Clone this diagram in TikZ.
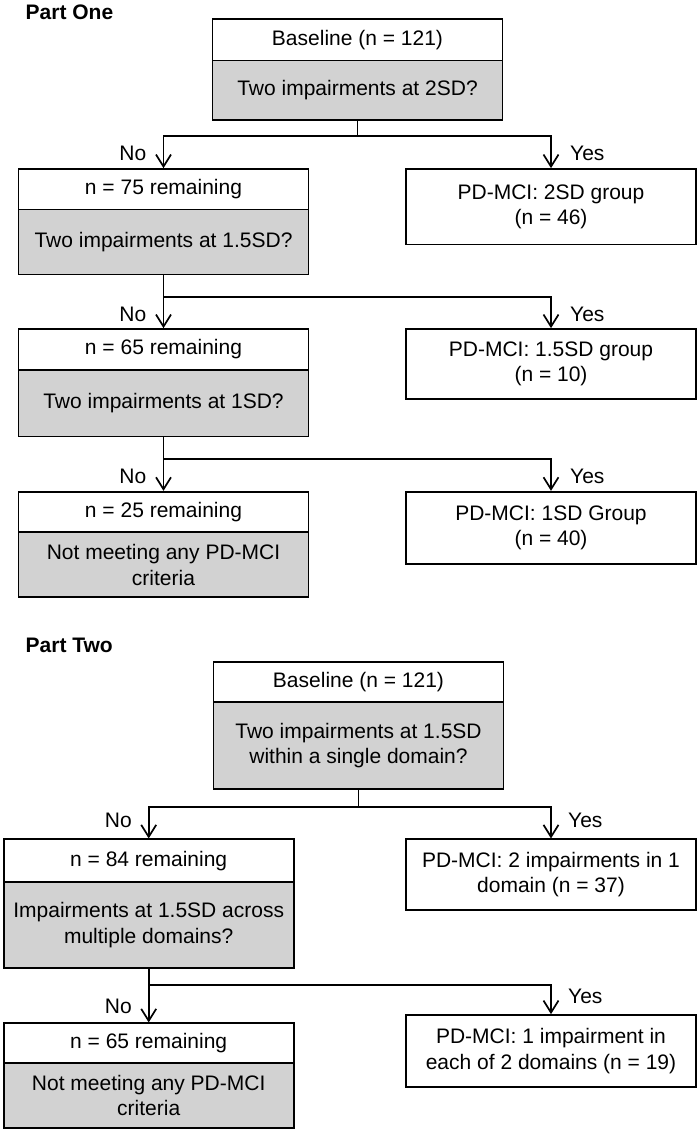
\documentclass[tikz,border=0pt]{standalone}
\usepackage{fontspec}
\setmainfont{Liberation Sans}
\usetikzlibrary{arrows.meta}
\definecolor{cellgray}{RGB}{210,210,210}
\begin{document}
\begin{tikzpicture}[x=1pt,y=-1pt,
  txt/.style={font={\fontsize{21}{25.5}\selectfont}},
  cell/.style={txt,draw,line width=1.7pt,minimum width=290pt,inner sep=0pt,align=center},
  whitecell/.style={cell,fill=white},
  graycell/.style={cell,fill=cellgray},
  conn/.style={line width=1.7pt},
  arr/.style={conn,-{Straight Barb[length=12pt,width=15pt]}},
  title/.style={font={\fontsize{21}{25.5}\selectfont\bfseries},anchor=west,inner sep=0pt},
  lab/.style={txt,inner sep=0pt}
]
\useasboundingbox (0,0) rectangle (700,1133);

% ---------- Part One ----------
\node[title] (t1) at (25.5,12) {Part One};

\node[graycell,minimum height=59.5pt] (B1b) at (357.5,90.25) {Two impairments at 2SD?};
\node[whitecell,minimum height=41.5pt] (B1t) at (357.5,39.75) {Baseline (n = 121)};

\node[graycell,minimum height=65pt] (L1b) at (163.5,242) {Two impairments at 1.5SD?};
\node[whitecell,minimum height=40.5pt] (L1t) at (163.5,189.25) {n = 75 remaining};
\node[whitecell,minimum height=75.5pt] (R1) at (551,206.75) {PD-MCI: 2SD group\\(n = 46)};

\node[graycell,minimum height=66.5pt] (L2b) at (163.5,403.25) {Two impairments at 1SD?};
\node[whitecell,minimum height=41pt] (L2t) at (163.5,349.5) {n = 65 remaining};
\node[whitecell,minimum height=70pt] (R2) at (551,364) {PD-MCI: 1.5SD group\\(n = 10)};

\node[graycell,minimum height=65pt] (L3b) at (163.5,564.8) {Not meeting any PD-MCI\\criteria};
\node[whitecell,minimum height=40.6pt] (L3t) at (163.5,512) {n = 25 remaining};
\node[whitecell,minimum height=72pt] (R3) at (551,527.7) {PD-MCI: 1SD Group\\(n = 40)};

\coordinate (j1) at (357.5,136);
\coordinate (j2) at (163.5,297);
\coordinate (j3) at (163.5,459);

\draw[conn] (B1b.south) -- (j1);
\draw[arr] (j1) -| (L1t.north);
\draw[arr] (j1) -| (R1.north);
\draw[arr] (L1b.south) -- (L2t.north);
\draw[arr] (j2) -| (R2.north);
\draw[arr] (L2b.south) -- (L3t.north);
\draw[arr] (j3) -| (R3.north);

\node[lab,anchor=east] (n1) at (146.5,153.3) {No};
\node[lab,anchor=west] (y1) at (570,153.3) {Yes};
\node[lab,anchor=east] (n2) at (146.5,314) {No};
\node[lab,anchor=west] (y2) at (570,314) {Yes};
\node[lab,anchor=east] (n3) at (146.5,476) {No};
\node[lab,anchor=west] (y3) at (570,476) {Yes};

% ---------- Part Two ----------
\node[title] (t2) at (25.5,645) {Part Two};

\node[graycell,minimum height=86.7pt] (B2b) at (358.5,745.65) {Two impairments at 1.5SD\\within a single domain?};
\node[whitecell,minimum height=40.6pt] (B2t) at (358.5,682) {Baseline (n = 121)};

\node[graycell,minimum height=86pt] (L4b) at (148.7,925.3) {Impairments at 1.5SD across\\multiple domains?};
\node[whitecell,minimum height=43pt] (L4t) at (148.7,860.8) {n = 84 remaining};
\node[whitecell,minimum height=71pt] (R4) at (551,874.8) {PD-MCI: 2 impairments in 1\\domain (n = 37)};

\node[graycell,minimum height=65.6pt] (L5b) at (148.7,1095.5) {Not meeting any PD-MCI\\criteria};
\node[whitecell,minimum height=39.4pt] (L5t) at (148.7,1043) {n = 65 remaining};
\node[whitecell,minimum height=71.7pt] (R5) at (551,1050.85) {PD-MCI: 1 impairment in\\each of 2 domains (n = 19)};

\coordinate (j4) at (358.5,807);
\coordinate (j5) at (148.7,984.7);

\draw[conn] (B2b.south) -- (j4);
\draw[arr] (j4) -| (L4t.north);
\draw[arr] (j4) -| (R4.north);
\draw[arr] (L4b.south) -- (L5t.north);
\draw[arr] (j5) -| (R5.north);

\node[lab,anchor=east] (n4) at (132,820) {No};
\node[lab,anchor=west] (y4) at (568,820) {Yes};
\node[lab,anchor=east] (n5) at (132,1006) {No};
\node[lab,anchor=west] (y5) at (568,996.7) {Yes};
\end{tikzpicture}
\end{document}
